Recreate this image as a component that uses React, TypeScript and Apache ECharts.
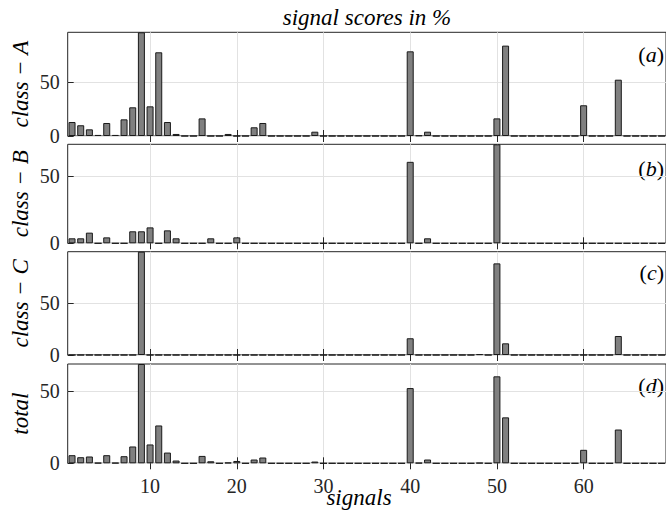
import React, { useEffect, useRef } from "react";
import * as echarts from "echarts";

const signals = [
  1, 2, 3, 4, 5, 6, 7, 8, 9, 10, 11, 12, 13, 14, 15, 16, 17, 18, 19, 20, 21, 22, 23,
  24, 25, 26, 27, 28, 29, 30, 31, 32, 33, 34, 35, 36, 37, 38, 39, 40, 41, 42, 43, 44,
  45, 46, 47, 48, 49, 50, 51, 52, 53, 54, 55, 56, 57, 58, 59, 60, 61, 62, 63, 64, 65,
  66, 67, 68, 69,
];

// values per signal 1..69
const classA = [
  13.0, 10.0, 6.2, 1.0, 12.1, 1.0, 15.5, 26.7, 96.5, 27.6, 77.9, 13.0, 1.9, 0, 0, 16.4, 0, 0, 1.9, 0,
  0, 8.1, 12.1, 0, 0, 0, 0, 0, 4.0, 0, 0, 0, 0, 0, 0, 0, 0, 0, 0, 78.8,
  0.5, 4.0, 0, 0, 0, 0, 0, 0, 0, 16.4, 84.1, 0, 0, 0, 0, 0, 0, 0, 0, 28.6,
  0, 0, 0, 52.4, 0, 0, 0, 0, 0,
];
const classB = [
  3.7, 3.7, 7.9, 0, 4.4, 0, 0, 8.9, 8.9, 11.8, 0, 9.6, 3.7, 0, 0, 0, 3.7, 0, 0, 4.4,
  0, 0, 0, 0, 0, 0, 0, 0, 0, 0, 0, 0, 0, 0, 0, 0, 0, 0, 0, 60.4,
  0, 3.7, 0, 0, 0, 0, 0, 0, 0, 73.4, 0, 0, 0, 0, 0, 0, 0, 0, 0, 0,
  0, 0, 0, 0, 0, 0, 0, 0, 0,
];
const classC = [
  0, 0, 0, 0, 0, 0, 0, 0, 100.0, 0, 0, 0, 0, 0, 0, 0, 0, 0, 0, 0,
  0, 0, 0, 0, 0, 0, 0, 0, 0, 0, 0, 0, 0, 0, 0, 0, 0, 0, 0, 16.2,
  0, 0, 0, 0, 0, 0, 0, 0.8, 0, 88.7, 11.3, 0, 0, 0, 0, 0, 0, 0, 0, 0,
  0, 0, 0, 18.4, 0, 0, 0, 0, 0,
];
const total = [
  5.6, 4.2, 4.7, 0.3, 5.6, 0.3, 4.9, 11.6, 68.5, 13.0, 26.1, 7.4, 1.9, 0, 0, 5.1, 1.4, 0, 0.5, 1.6,
  0, 2.6, 4.0, 0, 0, 0, 0, 0, 1.2, 0, 0, 0, 0, 0, 0, 0, 0, 0, 0, 51.9,
  0.3, 2.6, 0, 0, 0, 0, 0, 0.3, 0, 60.0, 31.7, 0, 0, 0, 0, 0, 0, 0, 0, 9.3,
  0, 0, 0, 23.3, 0, 0, 0, 0, 0,
];

const panelData = [classA, classB, classC, total];
const panelNames = ["class \u2212 A", "class \u2212 B", "class \u2212 C", "total"];
const panelTags = ["a", "b", "c", "d"];
const xTicks = [10, 20, 30, 40, 50, 60];
const yTicks = [0, 50];
const titleText = "signal scores in %";
const xLabelText = "signals";

const FONT = "'Liberation Serif', 'DejaVu Serif', 'Times New Roman', serif";
const INK = "#262626";
const GRIDC = "#e2e2e2";

const panelTop = [32.3, 144.3, 251.7, 364];
const panelHeight = [103.7, 99, 103.3, 99.3];
const tagY = [54, 168, 272, 385];
const LEFT = 67.7;
const WIDTH = 601.5;

export default function App() {
  const ref = useRef<HTMLDivElement>(null);
  useEffect(() => {
    if (!ref.current) return;
    const chart = echarts.init(ref.current, null, { renderer: "svg" });
    const grids: any[] = [];
    const xAxes: any[] = [];
    const yAxes: any[] = [];
    const series: any[] = [];
    const graphics: any[] = [];
    const italicStyle = (text: string, size: number) => ({
      text,
      fontFamily: FONT,
      fontStyle: "italic",
      fontSize: size,
      fill: "#000",
      textAlign: "center",
      textVerticalAlign: "middle",
    });
    panelData.forEach((vals, i) => {
      grids.push({
        left: LEFT,
        width: WIDTH,
        top: panelTop[i],
        height: panelHeight[i],
        show: true,
        borderColor: INK,
        borderWidth: 1,
        backgroundColor: "transparent",
      });
      xAxes.push({
        gridIndex: i,
        type: "value",
        min: 0.5,
        max: 69.5,
        position: "bottom",
        axisLine: { show: false },
        axisTick: { show: true, inside: true, length: 6, customValues: xTicks, lineStyle: { color: INK } },
        axisLabel: {
          show: i === 3,
          customValues: xTicks,
          margin: 13,
          fontFamily: FONT,
          fontSize: 20,
          color: INK,
        },
        splitLine: { show: true, lineStyle: { color: GRIDC, width: 1 } },
      });
      xAxes.push({
        gridIndex: i,
        type: "value",
        min: 0.5,
        max: 69.5,
        position: "top",
        axisLine: { show: false },
        axisTick: { show: true, inside: true, length: 6, customValues: xTicks, lineStyle: { color: INK } },
        axisLabel: { show: false },
        splitLine: { show: false },
      });
      yAxes.push({
        gridIndex: i,
        type: "value",
        min: 0,
        max: "dataMax",
        position: "left",
        axisLine: { show: false },
        axisTick: { show: true, inside: true, length: 6, customValues: yTicks, lineStyle: { color: INK } },
        axisLabel: {
          customValues: yTicks,
          margin: 8,
          fontFamily: FONT,
          fontSize: 20,
          color: INK,
        },
        splitLine: { show: true, lineStyle: { color: GRIDC, width: 1 } },
      });
      yAxes.push({
        gridIndex: i,
        type: "value",
        min: 0,
        max: "dataMax",
        position: "right",
        axisLine: { show: false },
        axisTick: { show: true, inside: true, length: 6, customValues: yTicks, lineStyle: { color: INK } },
        axisLabel: { show: false },
        splitLine: { show: false },
      });
      series.push({
        type: "bar",
        xAxisIndex: i * 2,
        yAxisIndex: i * 2,
        data: signals.map((s, k) => [s, vals[k]]),
        barWidth: 7,
        itemStyle: { color: "#808080", borderColor: "#1a1a1a", borderWidth: 1 },
        z: 2,
      });
      graphics.push({
        type: "text",
        x: 20,
        y: panelTop[i] + panelHeight[i] / 2,
        rotation: Math.PI / 2,
        style: italicStyle(panelNames[i], 23),
      });
      graphics.push({
        type: "text",
        x: 664,
        y: tagY[i],
        style: {
          text: `{p|(}{i|${panelTags[i]}}{p|)}`,
          rich: {
            p: { fontFamily: FONT, fontSize: 22, fill: "#000" },
            i: { fontFamily: FONT, fontStyle: "italic", fontSize: 22, fill: "#000" },
          },
          textAlign: "right",
          textVerticalAlign: "middle",
        },
      });
    });
    graphics.push({ type: "text", x: 367, y: 17, style: italicStyle(titleText, 23) });
    graphics.push({ type: "text", x: 359, y: 497, style: italicStyle(xLabelText, 23) });
    chart.setOption({
      animation: false,
      backgroundColor: "#fff",
      grid: grids,
      xAxis: xAxes,
      yAxis: yAxes,
      series,
      graphic: graphics,
    });
    return () => chart.dispose();
  }, []);
  return (
    <div
      ref={ref}
      style={{ position: "fixed", left: 0, top: 0, width: 666, height: 513 }}
    />
  );
}
